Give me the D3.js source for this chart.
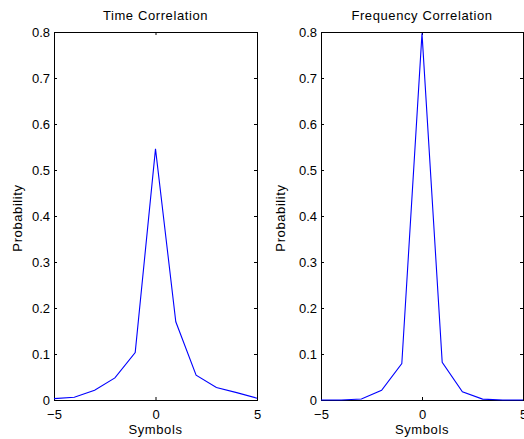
<!DOCTYPE html>
<html>
<head>
<meta charset="utf-8">
<script src="https://cdn.jsdelivr.net/npm/d3@7"></script>
<style>
  body { margin: 0; background: #fff; }
  svg { display: block; font-family: "Liberation Sans", Arial, sans-serif; }
  .lbl { letter-spacing: 0.6px; }
</style>
</head>
<body>
<div id="chart"></div>
<script>
// symbol offsets on the x axis
const symbols = [-5, -4, -3, -2, -1, 0, 1, 2, 3, 4, 5];
// probability per symbol offset
const timeCorr = [0.003, 0.006, 0.021, 0.048, 0.103, 0.546, 0.170, 0.054, 0.027, 0.016, 0.004];
const freqCorr = [0.0, 0.0, 0.002, 0.021, 0.079, 0.797, 0.082, 0.018, 0.002, 0.0, 0.0];
const xTicks = [-5, 0, 5];
const yTicks = [0, 0.1, 0.2, 0.3, 0.4, 0.5, 0.6, 0.7, 0.8];
const titles = ['Time Correlation', 'Frequency Correlation'];

const W = 524, H = 439;
const FS = '13px';
const svg = d3.select('#chart').append('svg').attr('width', W).attr('height', H);

// panel boxes in pixels (left, right), shared top/bottom; ylx = x of the ylabel baseline
const panels = [
  { x0: 54, x1: 257, ylx: 22, title: titles[0], values: timeCorr },
  { x0: 321, x1: 523, ylx: 285, title: titles[1], values: freqCorr }
];
const plotTop = 32, plotBottom = 400;
const fmt = v => (v < 0 ? '\u2212' + Math.abs(v) : String(v));

panels.forEach(p => {
  const x = d3.scaleLinear().domain([-5, 5]).range([p.x0, p.x1]);
  const y = d3.scaleLinear().domain([0, 0.8]).range([plotBottom, plotTop]);
  const g = svg.append('g');

  // ticks pointing inwards on all four sides, like matlab
  const tk = 3;
  const styleAxis = (sel) => {
    sel.select('.domain').remove();
    sel.selectAll('line').attr('stroke', '#000');
    sel.selectAll('text').attr('fill', '#000').style('font-size', FS);
  };

  g.append('g').attr('transform', `translate(0,${plotBottom})`)
    .call(d3.axisBottom(x).tickValues(xTicks).tickSize(-tk).tickPadding(10).tickFormat(fmt))
    .call(styleAxis);
  g.append('g').attr('transform', `translate(0,${plotTop})`)
    .call(d3.axisTop(x).tickValues(xTicks).tickSize(-tk).tickFormat(''))
    .call(styleAxis);
  g.append('g').attr('transform', `translate(${p.x0},0)`)
    .call(d3.axisLeft(y).tickValues(yTicks).tickSize(-tk).tickPadding(4).tickFormat(d => d === 0 ? '0' : d3.format('.1f')(d)))
    .call(styleAxis);
  g.append('g').attr('transform', `translate(${p.x1},0)`)
    .call(d3.axisRight(y).tickValues(yTicks).tickSize(-tk).tickFormat(''))
    .call(styleAxis);

  g.append('rect')
    .attr('x', p.x0 + 0.5).attr('y', plotTop + 0.5)
    .attr('width', p.x1 - p.x0).attr('height', plotBottom - plotTop)
    .attr('fill', 'none').attr('stroke', '#000').attr('stroke-width', 1);

  const line = d3.line().x((d, i) => x(symbols[i])).y(d => y(d));
  g.append('path').datum(p.values)
    .attr('d', line)
    .attr('fill', 'none')
    .attr('stroke', '#0000ff')
    .attr('stroke-width', 1.1);

  const cx = (p.x0 + p.x1) / 2;
  g.append('text').attr('class', 'lbl').attr('x', cx).attr('y', 20)
    .attr('text-anchor', 'middle').style('font-size', FS).text(p.title);
  g.append('text').attr('class', 'lbl').attr('x', cx).attr('y', 434)
    .attr('text-anchor', 'middle').style('font-size', FS).text('Symbols');
  g.append('text').attr('class', 'lbl')
    .attr('transform', `translate(${p.ylx},${(plotTop + plotBottom) / 2 + 2}) rotate(-90)`)
    .attr('text-anchor', 'middle').style('font-size', FS).text('Probability');
});
</script>
</body>
</html>
